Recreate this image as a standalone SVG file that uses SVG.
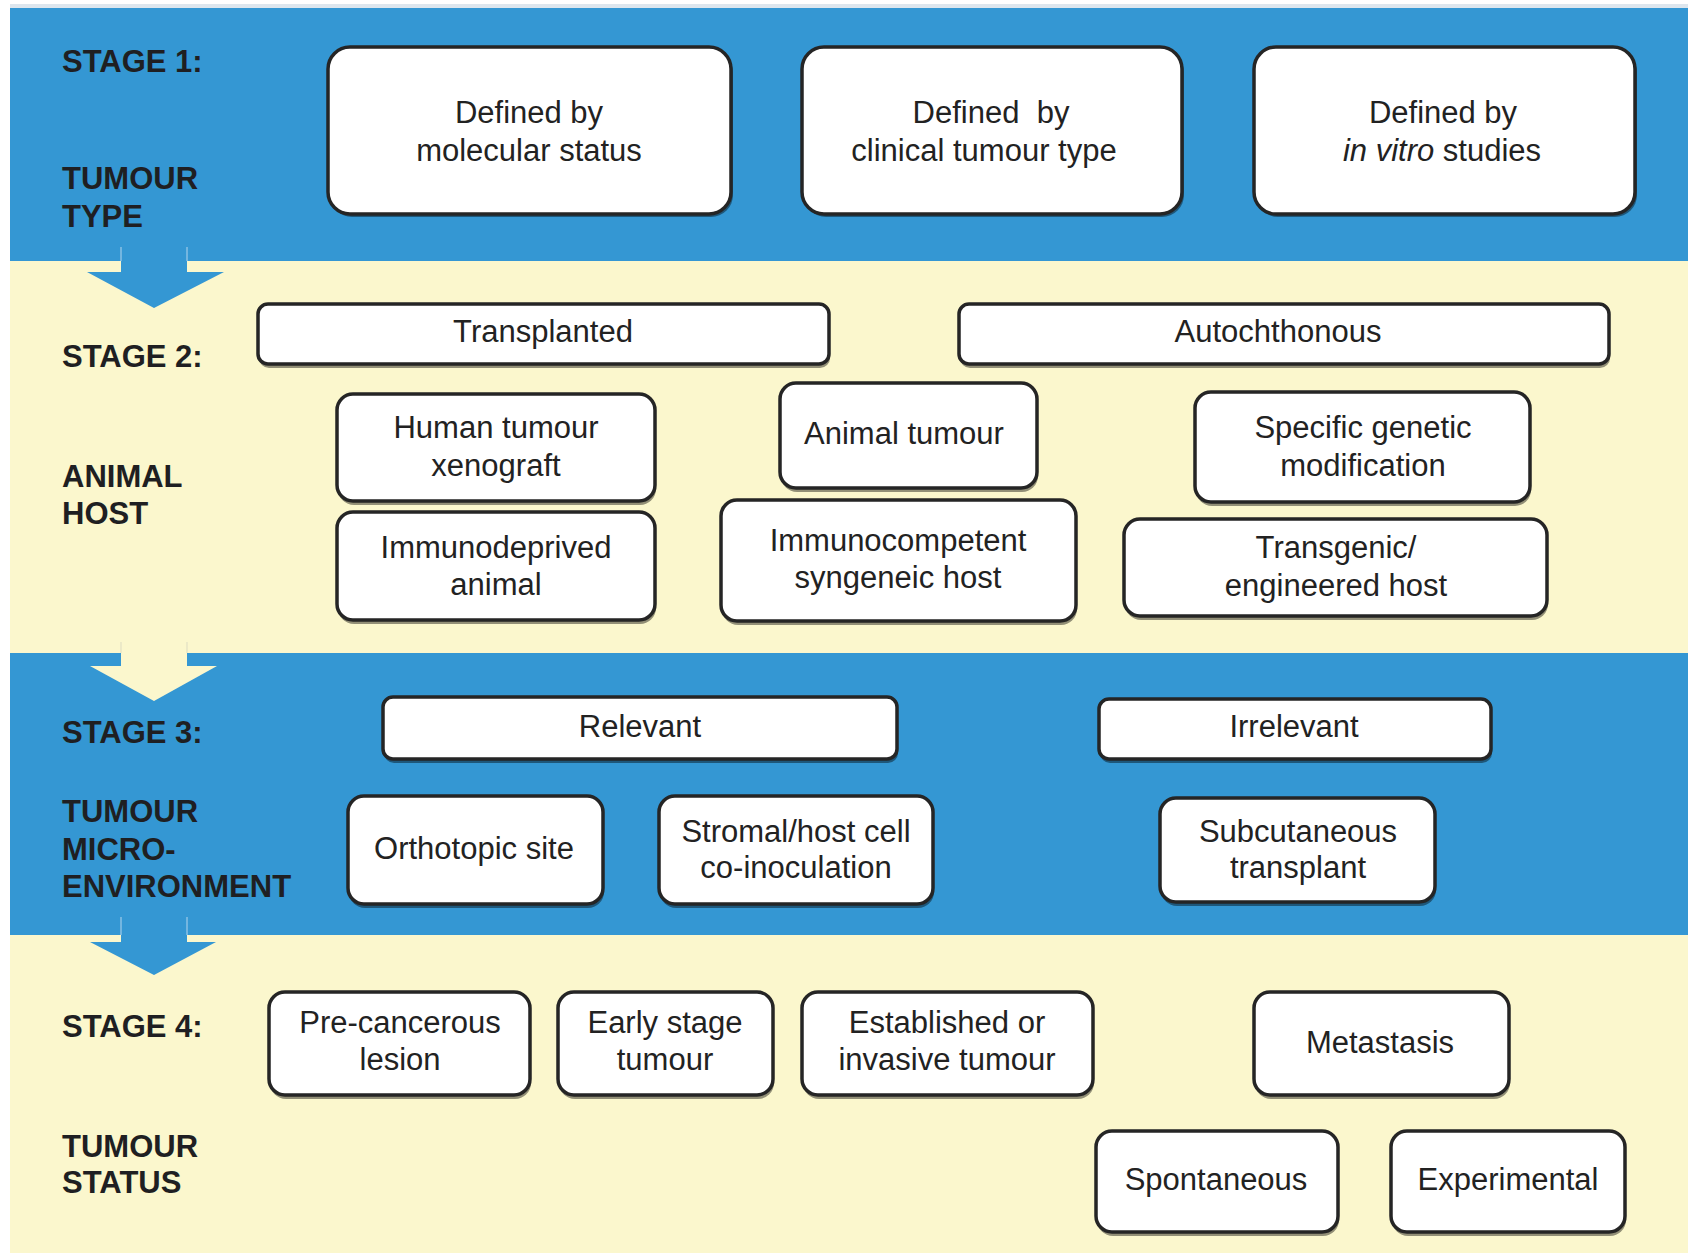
<svg xmlns="http://www.w3.org/2000/svg" width="1688" height="1256" viewBox="0 0 1688 1256">
<style>
.blue{fill:#3497d3}
.cream{fill:#fbf7cd}
.lbl{font-family:"Liberation Sans",Arial,sans-serif;font-weight:bold;font-size:31px;fill:#1f1f22}
.t{font-family:"Liberation Sans",Arial,sans-serif;font-size:31px;fill:#222;text-anchor:middle}
.box{fill:#fff;stroke:#252525;stroke-width:3.5}
.sh{fill:#000;opacity:0.42}
.arB{fill:#3497d3}
.arC{fill:#fbf7cd}
.edgeB{stroke:#9fcbe9;stroke-width:1.2}
.edgeC{stroke:#e2dfc4;stroke-width:1.2}
</style>
<rect x="0" y="0" width="1688" height="1256" fill="#ffffff"/>
<rect x="10" y="4" width="1678" height="4" fill="#dde6ee"/>
<g id="bands">
<rect class="blue" x="10" y="8" width="1678" height="253"/>
<rect class="cream" x="10" y="261" width="1678" height="392"/>
<rect class="blue" x="10" y="653" width="1678" height="282"/>
<rect class="cream" x="10" y="935" width="1678" height="318"/>
</g>
<g id="connectors">
<polygon class="arB" points="121,247 187,247 187,272 224,272 154,308 87,272 121,272"/>
<line class="edgeB" x1="121" y1="247" x2="121" y2="261"/>
<line class="edgeB" x1="187" y1="247" x2="187" y2="261"/>
<polygon class="arC" points="121,642 187,642 187,666 217,666 154,701 90,666 121,666"/>
<line class="edgeC" x1="121" y1="642" x2="121" y2="653"/>
<line class="edgeC" x1="187" y1="642" x2="187" y2="653"/>
<polygon class="arB" points="121,917 187,917 187,942 216,942 154,975 90,942 121,942"/>
<line class="edgeB" x1="121" y1="917" x2="121" y2="935"/>
<line class="edgeB" x1="187" y1="917" x2="187" y2="935"/>
</g>
<g id="labels">
<text class="lbl" x="62" y="72">STAGE 1:</text>
<text class="lbl" x="62" y="189">TUMOUR</text>
<text class="lbl" x="62" y="227">TYPE</text>
<text class="lbl" x="62" y="367">STAGE 2:</text>
<text class="lbl" x="62" y="487">ANIMAL</text>
<text class="lbl" x="62" y="524">HOST</text>
<text class="lbl" x="62" y="743">STAGE 3:</text>
<text class="lbl" x="62" y="822">TUMOUR</text>
<text class="lbl" x="62" y="860">MICRO-</text>
<text class="lbl" x="62" y="897">ENVIRONMENT</text>
<text class="lbl" x="62" y="1037">STAGE 4:</text>
<text class="lbl" x="62" y="1157">TUMOUR</text>
<text class="lbl" x="62" y="1193">STATUS</text>
</g>
<g id="n-molecular">
<rect class="sh" x="330" y="50" width="403" height="167" rx="22"/>
<rect class="box" x="328" y="47" width="403" height="167" rx="22"/>
<text class="t" x="529" y="123">Defined by</text>
<text class="t" x="529" y="161">molecular status</text>
</g>
<g id="n-clinical">
<rect class="sh" x="804" y="50" width="380" height="167" rx="22"/>
<rect class="box" x="802" y="47" width="380" height="167" rx="22"/>
<text class="t" x="991" y="123" xml:space="preserve">Defined  by</text>
<text class="t" x="984" y="161">clinical tumour type</text>
</g>
<g id="n-invitro">
<rect class="sh" x="1256" y="50" width="381" height="167" rx="22"/>
<rect class="box" x="1254" y="47" width="381" height="167" rx="22"/>
<text class="t" x="1443" y="123">Defined by</text>
<text class="t" x="1442" y="161"><tspan font-style="italic">in vitro</tspan> studies</text>
</g>
<g id="n-transplanted">
<rect class="sh" x="259" y="308" width="571" height="60" rx="10"/>
<rect class="box" x="258" y="304" width="571" height="60" rx="10"/>
<text class="t" x="543" y="342">Transplanted</text>
</g>
<g id="n-autochthonous">
<rect class="sh" x="960" y="308" width="650" height="60" rx="10"/>
<rect class="box" x="959" y="304" width="650" height="60" rx="10"/>
<text class="t" x="1278" y="342">Autochthonous</text>
</g>
<g id="n-human">
<rect class="sh" x="338" y="398" width="318" height="107" rx="16"/>
<rect class="box" x="337" y="394" width="318" height="107" rx="16"/>
<text class="t" x="496" y="438">Human tumour</text>
<text class="t" x="496" y="476">xenograft</text>
</g>
<g id="n-immunodeprived">
<rect class="sh" x="338" y="516" width="318" height="108" rx="16"/>
<rect class="box" x="337" y="512" width="318" height="108" rx="16"/>
<text class="t" x="496" y="558">Immunodeprived</text>
<text class="t" x="496" y="595">animal</text>
</g>
<g id="n-animal">
<rect class="sh" x="781" y="387" width="257" height="105" rx="16"/>
<rect class="box" x="780" y="383" width="257" height="105" rx="16"/>
<text class="t" x="904" y="444">Animal tumour</text>
</g>
<g id="n-immunocompetent">
<rect class="sh" x="722" y="504" width="355" height="121" rx="16"/>
<rect class="box" x="721" y="500" width="355" height="121" rx="16"/>
<text class="t" x="898" y="551">Immunocompetent</text>
<text class="t" x="898" y="588">syngeneic host</text>
</g>
<g id="n-specific">
<rect class="sh" x="1196" y="396" width="335" height="110" rx="16"/>
<rect class="box" x="1195" y="392" width="335" height="110" rx="16"/>
<text class="t" x="1363" y="438">Specific genetic</text>
<text class="t" x="1363" y="476">modification</text>
</g>
<g id="n-transgenic">
<rect class="sh" x="1125" y="523" width="423" height="97" rx="16"/>
<rect class="box" x="1124" y="519" width="423" height="97" rx="16"/>
<text class="t" x="1336" y="558">Transgenic/</text>
<text class="t" x="1336" y="596">engineered host</text>
</g>
<g id="n-relevant">
<rect class="sh" x="384" y="701" width="514" height="62" rx="10"/>
<rect class="box" x="383" y="697" width="514" height="62" rx="10"/>
<text class="t" x="640" y="737">Relevant</text>
</g>
<g id="n-irrelevant">
<rect class="sh" x="1100" y="703" width="392" height="60" rx="10"/>
<rect class="box" x="1099" y="699" width="392" height="60" rx="10"/>
<text class="t" x="1294" y="737">Irrelevant</text>
</g>
<g id="n-orthotopic">
<rect class="sh" x="349" y="800" width="255" height="108" rx="16"/>
<rect class="box" x="348" y="796" width="255" height="108" rx="16"/>
<text class="t" x="474" y="859">Orthotopic site</text>
</g>
<g id="n-stromal">
<rect class="sh" x="660" y="800" width="274" height="108" rx="16"/>
<rect class="box" x="659" y="796" width="274" height="108" rx="16"/>
<text class="t" x="796" y="842">Stromal/host cell</text>
<text class="t" x="796" y="878">co-inoculation</text>
</g>
<g id="n-subcutaneous">
<rect class="sh" x="1161" y="802" width="275" height="104" rx="16"/>
<rect class="box" x="1160" y="798" width="275" height="104" rx="16"/>
<text class="t" x="1298" y="842">Subcutaneous</text>
<text class="t" x="1298" y="878">transplant</text>
</g>
<g id="n-precancerous">
<rect class="sh" x="270" y="996" width="261" height="103" rx="16"/>
<rect class="box" x="269" y="992" width="261" height="103" rx="16"/>
<text class="t" x="400" y="1033">Pre-cancerous</text>
<text class="t" x="400" y="1070">lesion</text>
</g>
<g id="n-early">
<rect class="sh" x="559" y="996" width="215" height="103" rx="16"/>
<rect class="box" x="558" y="992" width="215" height="103" rx="16"/>
<text class="t" x="665" y="1033">Early stage</text>
<text class="t" x="665" y="1070">tumour</text>
</g>
<g id="n-established">
<rect class="sh" x="803" y="996" width="291" height="103" rx="16"/>
<rect class="box" x="802" y="992" width="291" height="103" rx="16"/>
<text class="t" x="947" y="1033">Established or</text>
<text class="t" x="947" y="1070">invasive tumour</text>
</g>
<g id="n-metastasis">
<rect class="sh" x="1255" y="996" width="255" height="103" rx="16"/>
<rect class="box" x="1254" y="992" width="255" height="103" rx="16"/>
<text class="t" x="1380" y="1053">Metastasis</text>
</g>
<g id="n-spontaneous">
<rect class="sh" x="1097" y="1135" width="242" height="101" rx="16"/>
<rect class="box" x="1096" y="1131" width="242" height="101" rx="16"/>
<text class="t" x="1216" y="1190">Spontaneous</text>
</g>
<g id="n-experimental">
<rect class="sh" x="1392" y="1135" width="234" height="101" rx="16"/>
<rect class="box" x="1391" y="1131" width="234" height="101" rx="16"/>
<text class="t" x="1508" y="1190">Experimental</text>
</g>
</svg>
